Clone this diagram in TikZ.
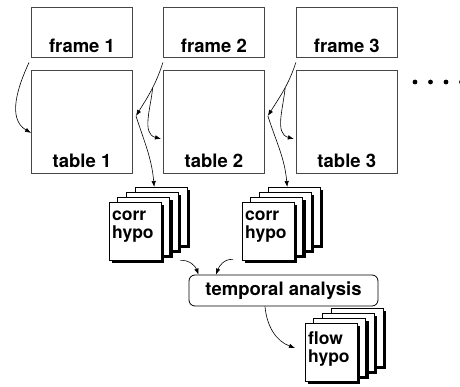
\documentclass[tikz,border=0pt]{standalone}
\usepackage{fontspec}
\setmainfont{TeX Gyre Heros}
\usepackage{tikz}
\usetikzlibrary{positioning, arrows.meta}
\tikzstyle{sheet} = [x = 1pt, y = -1pt]
\definecolor{boxColor}{RGB}{70,70,70}
\tikzstyle{frameStyle} = [draw=boxColor, line width=.9pt, minimum width=101pt, inner xsep=0pt, inner ysep=4pt, text height=42pt, text depth=0pt, font=\fontsize{18.5}{20}\selectfont\bfseries]
\tikzstyle{tableStyle} = [frameStyle, inner ysep=6pt, text height=91pt]
\tikzstyle{tempStyle} = [draw=black, line width=.8pt, rounded corners=6pt, minimum width=189pt, minimum height=31pt, font=\fontsize{18.5}{20}\selectfont\bfseries]
\tikzstyle{pageStyle} = [draw=black, fill=white, line width=.7pt]
\tikzstyle{shadowStyle} = [fill=black]
\tikzstyle{hypoText} = [align=left, inner sep=0pt, anchor=north west, font=\fontsize{17.5}{18}\selectfont\bfseries]
\tikzstyle{stackBox} = [inner sep=0pt, minimum width=81pt, minimum height=78pt, anchor=north west]
\tikzstyle{flowArrow} = [-{Latex[length=6pt, width=4.5pt]}, line width=.6pt]
\newcommand{\pageDx}{8.7}
\newcommand{\pageDy}{5}
% stack of four hypothesis pages: name, x, y of front page, text
\newcommand{\hypoStack}[4]{
  \foreach \i in {3,2,1,0} {
    \fill [shadowStyle] (#2 + \pageDx * \i + 3, #3 - \pageDy * \i + 3) rectangle + (52, 58);
    \filldraw [pageStyle] (#2 + \pageDx * \i, #3 - \pageDy * \i) rectangle + (52, 58);
  }
  \node [hypoText] (#1Text) at (#2 + 3, #3 + 9) {#4};
  \node [stackBox] (#1) at (#2, #3 - 15) {};
}

\begin{document}
\begin{tikzpicture}[sheet]
  \useasboundingbox (0,0) rectangle (460,387);

  \node [frameStyle] (frame1) at (82, 32) {frame 1};
  \node [frameStyle, right=30pt of frame1] (frame2) {frame 2};
  \node [frameStyle, right=31pt of frame2] (frame3) {frame 3};
  \node [tableStyle, below=13pt of frame1] (table1) {table 1};
  \node [tableStyle, below=13pt of frame2] (table2) {table 2};
  \node [tableStyle, below=13pt of frame3] (table3) {table 3};

  \foreach \d in {0,...,3}
    \fill (415 + 15.5 * \d, 82) circle (2.4pt);

  \hypoStack{corrA}{109}{202}{corr\\hypo}
  \hypoStack{corrB}{242}{202}{corr\\hypo}
  \hypoStack{flow}{305}{323}{flow\\hypo}

  \node [tempStyle] (temporal) at (283.5, 290.5) {temporal analysis};

  % frames into tables
  \draw [flowArrow] ([shift={(-2,5)}]frame1.south west) to [out=-115, in=150] ([yshift=-10.5pt]table1.west);
  \draw [flowArrow] ([yshift=-5pt]frame2.south west) to [out=-108, in=58] coordinate [pos=.45] (fork2) ([shift={(3,-6.5)}]table1.east);
  \draw [flowArrow] (fork2) to [out=-95, in=165] ([shift={(-2,16.5)}]table2.west);
  \draw [flowArrow] ([yshift=-5pt]frame3.south west) to [out=-108, in=58] coordinate [pos=.45] (fork3) ([shift={(3,-6.5)}]table2.east);
  \draw [flowArrow] (fork3) to [out=-95, in=165] ([shift={(-2,16.5)}]table3.west);

  % tables into correspondence hypotheses
  \draw [flowArrow] ([shift={(3,-6.5)}]table1.east) to [out=-72, in=95] ([xshift=4.5pt]corrA.north);
  \draw [flowArrow] ([shift={(3,-6.5)}]table2.east) to [out=-72, in=95] ([xshift=4.5pt]corrB.north);

  % temporal analysis
  \draw [flowArrow] ([shift={(-10,-5)}]corrA.south east) to [out=5, in=110] ([xshift=-85pt]temporal.north);
  \draw [flowArrow] ([shift={(-9,-6)}]corrB.south west) to [out=175, in=70] ([xshift=-67.5pt]temporal.north);
  \draw [flowArrow] ([xshift=-18.5pt]temporal.south) to [out=-85, in=160] ([shift={(-10,40)}]flow.north west);
\end{tikzpicture}
\end{document}
